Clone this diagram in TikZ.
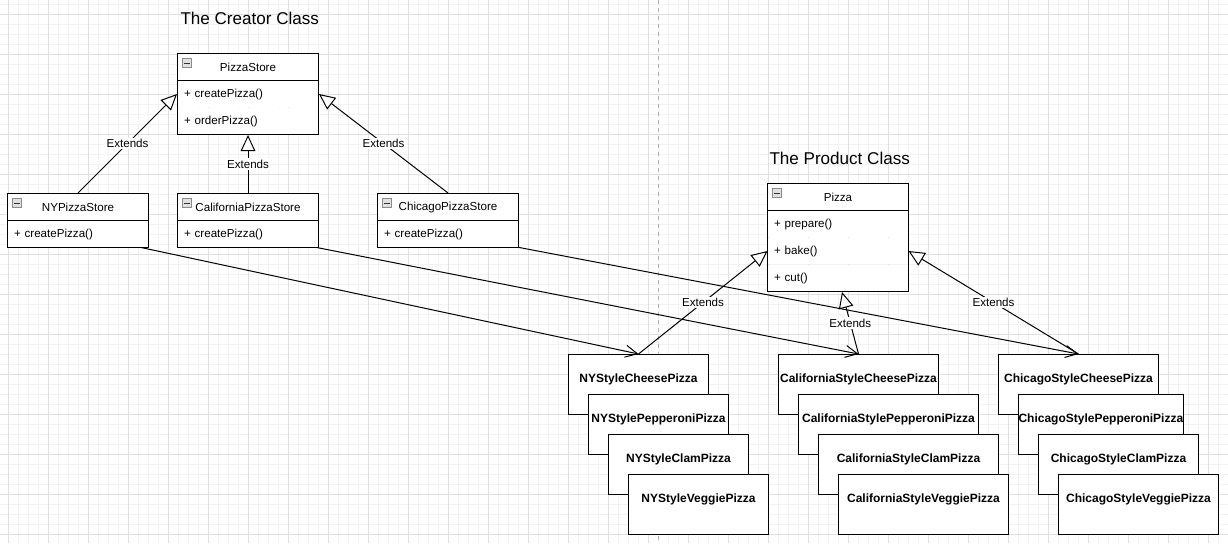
\documentclass[tikz,border=0pt]{standalone}
\usepackage{fontspec}
\setmainfont{Liberation Sans}
\usetikzlibrary{arrows.meta,positioning,fit}

\tikzset{
  gridminor/.style={line width=0.5pt, draw=black!5},
  gridmajor/.style={line width=0.6pt, draw=black!12},
  pagebreak/.style={line width=0.6pt, draw=black!30, dash pattern=on 3pt off 3pt},
  title/.style={inner sep=0pt, font=\fontsize{12.8}{15}\selectfont},
  classhead/.style={fill=white, minimum width=105pt, minimum height=19.5pt, inner sep=0pt, font=\fontsize{8.7}{10}\selectfont},
  classrow/.style={fill=white, minimum width=105pt, minimum height=19.5pt, inner xsep=4.5pt, inner ysep=0pt, text width=96pt, align=left, font=\fontsize{8.7}{10}\selectfont},
  classbox/.style={draw, inner sep=0pt},
  minusicon/.style={draw=black!45, fill=black!12, minimum size=6.75pt, inner sep=0pt,
    path picture={\draw[black!80, line width=0.6pt] ([xshift=1.3pt]path picture bounding box.west) -- ([xshift=-1.3pt]path picture bounding box.east);}},
  pizzabox/.style={draw, fill=white, minimum height=45pt, inner sep=0pt, text height=6.4pt, text depth=9.4pt, font=\bfseries\fontsize{9}{10}\selectfont},
  extends/.style={-{Triangle[fill=white, length=12pt, width=11pt]}},
  uses/.style={-{Straight Barb[length=9pt, width=9pt]}},
  lbl/.style={fill=white, inner sep=1pt, font=\fontsize{8.7}{10}\selectfont},
}

\begin{document}
\begin{tikzpicture}[x=0.75pt, y=-0.75pt, line width=0.75pt]
	% background and grid
	\fill[white] (0,0) rectangle (1228,543);
	\useasboundingbox (0,0) rectangle (1228,543);
	\foreach \x in {8,18,...,1218} \draw[gridminor] (\x,0) -- (\x,543);
	\foreach \y in {4,14,...,534} \draw[gridminor] (0,\y) -- (1228,\y);
	\foreach \x in {8,48,...,1208} \draw[gridmajor] (\x,0) -- (\x,543);
	\foreach \y in {14,54,...,534} \draw[gridmajor] (0,\y) -- (1228,\y);
	\draw[pagebreak] (658,0) -- (658,543);

	\node[title, anchor=west] (creatortitle) at (180,18) {The Creator Class};
	\node[title, anchor=west] (producttitle) at (769,158) {The Product Class};

	% creator classes
	\node[classhead] (store) at (248,67) {PizzaStore};
	\node[classrow, below=0pt of store] (storecreate) {+ createPizza()};
	\node[classrow, below=0pt of storecreate] (storeorder) {+ orderPizza()};
	\node[classbox, fit=(store)(storeorder)] (storebox) {};
	\draw (store.south west) -- (store.south east);
	\node[minusicon] (storeicon) at ([shift={(9.5,9.5)}]store.north west) {};

	\node[classhead] (nystore) at (78,207) {NYPizzaStore};
	\node[classrow, below=0pt of nystore] (nycreate) {+ createPizza()};
	\node[classbox, fit=(nystore)(nycreate)] (nybox) {};
	\draw (nystore.south west) -- (nystore.south east);
	\node[minusicon] (nyicon) at ([shift={(9.5,9.5)}]nystore.north west) {};

	\node[classhead] (calistore) at (248,207) {CaliforniaPizzaStore};
	\node[classrow, below=0pt of calistore] (calicreate) {+ createPizza()};
	\node[classbox, fit=(calistore)(calicreate)] (calibox) {};
	\draw (calistore.south west) -- (calistore.south east);
	\node[minusicon] (caliicon) at ([shift={(9.5,9.5)}]calistore.north west) {};

	\node[classhead] (chicagostore) at (448,207) {ChicagoPizzaStore};
	\node[classrow, below=0pt of chicagostore] (chicagocreate) {+ createPizza()};
	\node[classbox, fit=(chicagostore)(chicagocreate)] (chicagobox) {};
	\draw (chicagostore.south west) -- (chicagostore.south east);
	\node[minusicon] (chicagoicon) at ([shift={(9.5,9.5)}]chicagostore.north west) {};

	% product class
	\node[classhead] (pizza) at (838,197) {Pizza};
	\node[classrow, below=0pt of pizza] (pizzaprepare) {+ prepare()};
	\node[classrow, below=0pt of pizzaprepare] (pizzabake) {+ bake()};
	\node[classrow, below=0pt of pizzabake] (pizzacut) {+ cut()};
	\node[classbox, fit=(pizza)(pizzacut)] (pizzabox) {};
	\draw (pizza.south west) -- (pizza.south east);
	\node[minusicon] (pizzaicon) at ([shift={(9.5,9.5)}]pizza.north west) {};

	% concrete pizzas
	\node[pizzabox, minimum width=105pt, anchor=north west] (nycheese) at (568,354) {NYStyleCheesePizza};
	\node[pizzabox, minimum width=105pt, anchor=north west] (nypepperoni) at ([shift={(20,40)}]nycheese.north west) {NYStylePepperoniPizza};
	\node[pizzabox, minimum width=105pt, anchor=north west] (nyclam) at ([shift={(20,40)}]nypepperoni.north west) {NYStyleClamPizza};
	\node[pizzabox, minimum width=105pt, anchor=north west] (nyveggie) at ([shift={(20,40)}]nyclam.north west) {NYStyleVeggiePizza};

	\node[pizzabox, minimum width=120pt, anchor=north west] (calicheese) at (778,354) {CaliforniaStyleCheesePizza};
	\node[pizzabox, minimum width=135pt, anchor=north west] (calipepperoni) at ([shift={(20,40)}]calicheese.north west) {CaliforniaStylePepperoniPizza};
	\node[pizzabox, minimum width=135pt, anchor=north west] (caliclam) at ([shift={(20,40)}]calipepperoni.north west) {CaliforniaStyleClamPizza};
	\node[pizzabox, minimum width=127.5pt, anchor=north west] (caliveggie) at ([shift={(20,40)}]caliclam.north west) {CaliforniaStyleVeggiePizza};

	\node[pizzabox, minimum width=120pt, anchor=north west] (chicagocheese) at (998,354) {ChicagoStyleCheesePizza};
	\node[pizzabox, minimum width=120pt, anchor=north west] (chicagopepperoni) at ([shift={(20,40)}]chicagocheese.north west) {ChicagoStylePepperoniPizza};
	\node[pizzabox, minimum width=120pt, anchor=north west] (chicagoclam) at ([shift={(20,40)}]chicagopepperoni.north west) {ChicagoStyleClamPizza};
	\node[pizzabox, minimum width=120pt, anchor=north west] (chicagoveggie) at ([shift={(20,40)}]chicagoclam.north west) {ChicagoStyleVeggiePizza};

	% inheritance
	\draw[extends] (nybox.north) -- (storebox.west) node[lbl, midway] {Extends};
	\draw[extends] (calibox.north) -- (storebox.south) node[lbl, midway] {Extends};
	\draw[extends] (chicagobox.north) -- (storebox.east) node[lbl, midway] {Extends};
	\draw[extends] (nycheese.north) -- (pizzabake.west) node[lbl, midway] {Extends};
	\draw[extends] (calicheese.north) -- ([xshift=3pt]pizzabox.south) node[lbl, midway] {Extends};
	\draw[extends] (chicagocheese.north) -- (pizzabake.east) node[lbl, midway] {Extends};

	% creates
	\draw[uses] (nycreate) -- (nycheese.north);
	\draw[uses] (calicreate) -- (calicheese.north);
	\draw[uses] (chicagocreate) -- (chicagocheese.north);
\end{tikzpicture}
\end{document}
